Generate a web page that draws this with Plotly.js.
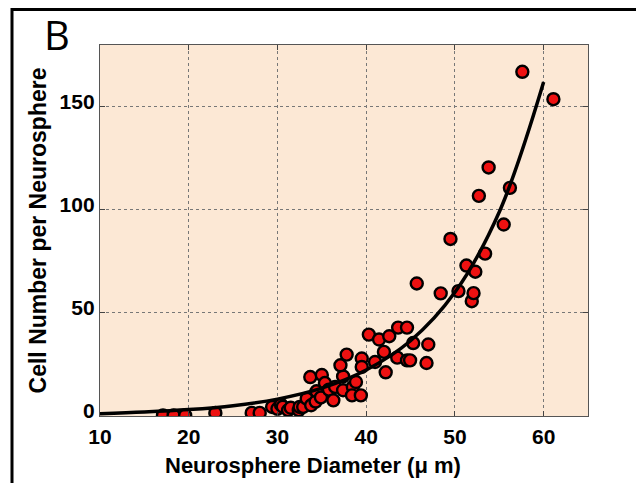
<!DOCTYPE html>
<html>
<head>
<meta charset="utf-8">
<script src="https://cdn.plot.ly/plotly-3.0.1.min.js"></script>
<style>html,body{margin:0;padding:0;background:#fff;}#chart{width:636px;height:483px;}</style>
</head>
<body>
<div id="chart"></div>
<script>
// Measured neurospheres: diameter (µm) and cell count
const diameter = [17.1, 18.3, 19.6, 23.0, 27.1, 28.0, 29.4, 30.0, 30.4, 30.6, 31.2, 31.5, 32.4, 32.5, 32.9,
  33.3, 33.8, 34.3, 34.4, 33.7, 35.0, 35.35, 34.9, 35.8, 36.3, 36.5, 37.4, 37.4, 37.1, 37.8,
  38.5, 38.85, 38.4, 39.4, 39.5, 39.5, 40.3, 41.0, 41.45, 42.0, 42.2, 42.6, 43.5, 43.6, 44.6,
  44.6, 44.95, 45.3, 45.7, 46.8, 47.0, 48.4, 49.5, 50.4, 51.3, 51.9, 52.1, 52.3, 52.7, 53.4,
  53.8, 55.5, 56.2, 57.6, 61.1];
const cellCount = [0.3, 0.3, 0.3, 1.5, 1.5, 1.5, 4.4, 3.5, 5.5, 4.5, 2.8, 4.0, 2.8, 4.4, 4.4,
  8.4, 5.2, 7.0, 12.0, 18.9, 19.9, 16.0, 9.0, 12.8, 7.6, 14.1, 12.5, 19.2, 24.6, 29.8,
  14.1, 16.5, 10.0, 10.0, 27.9, 23.8, 39.5, 26.2, 37.1, 31.1, 21.2, 38.7, 28.3, 42.9, 42.9,
  27.0, 27.0, 35.4, 64.3, 25.7, 34.7, 59.5, 85.9, 60.6, 73.0, 55.7, 59.6, 70.0, 106.8, 78.8,
  120.6, 92.9, 110.7, 167.0, 153.7];

// Fitted curve
const fitX = [10, 15, 20, 25, 30, 35, 40, 45, 50, 55, 60];
const fitY = [1.1, 1.9, 3.1, 5.0, 8.2, 13.5, 22.3, 36.5, 60, 99, 162];

const xTicks = [10, 20, 30, 40, 50, 60];
const yTicks = [0, 50, 100, 150];

const tickFont = {family: 'Liberation Sans, Arial, sans-serif', size: 21, color: '#000', weight: 'bold'};

const traces = [
  {
    type: 'scatter', mode: 'markers', x: diameter, y: cellCount,
    marker: {color: '#EE1111', size: 12, line: {color: '#000', width: 2.4}},
    hoverinfo: 'x+y', showlegend: false
  },
  {
    type: 'scatter', mode: 'lines', x: fitX, y: fitY,
    line: {color: '#000', width: 3.5, shape: 'spline', smoothing: 1},
    hoverinfo: 'skip', showlegend: false
  }
];

const layout = {
  width: 636, height: 483,
  margin: {l: 100, r: 48, t: 45, b: 67},
  paper_bgcolor: '#fff',
  plot_bgcolor: '#FCE8D5',
  showlegend: false,
  xaxis: {
    range: [10, 65], tickvals: xTicks, ticktext: xTicks.map(String),
    ticks: 'inside', ticklen: 5, tickcolor: '#444', tickwidth: 1,
    showline: true, linecolor: '#555', linewidth: 1.2, mirror: 'ticks',
    showgrid: true, gridcolor: '#777', gridwidth: 1, griddash: 'dot',
    zeroline: false, tickfont: tickFont, ticklabelstandoff: 2
  },
  yaxis: {
    range: [0, 180], tickvals: yTicks, ticktext: yTicks.map(String),
    ticks: 'inside', ticklen: 5, tickcolor: '#444', tickwidth: 1,
    showline: true, linecolor: '#555', linewidth: 1.2, mirror: 'ticks',
    showgrid: true, gridcolor: '#777', gridwidth: 1, griddash: 'dot',
    zeroline: false, tickfont: tickFont, ticklabelshift: -5,
    title: {text: 'Cell Number per Neurosphere', standoff: 6,
      font: {family: 'Liberation Sans, Arial, sans-serif', size: 23, color: '#000', weight: 'bold'}}
  },
  annotations: [
    {text: 'Neurosphere Diameter (\u03bc m)', xref: 'paper', yref: 'paper',
      x: (313 - 100) / 488, y: (416 - 466) / 371, xanchor: 'center', yanchor: 'middle',
      showarrow: false,
      font: {family: 'Liberation Sans, Arial, sans-serif', size: 22, color: '#000', weight: 'bold'}},
    {text: 'B', xref: 'paper', yref: 'paper',
      x: (57 - 100) / 488, y: (416 - 34) / 371, xanchor: 'center', yanchor: 'middle',
      showarrow: false,
      font: {family: 'Open Sans, DejaVu Sans, sans-serif', size: 40, color: '#000'}}
  ],
  shapes: [
    {type: 'rect', xref: 'paper', yref: 'paper', layer: 'above',
      x0: (12 - 100) / 488, x1: (660 - 100) / 488,
      y0: (416 - 500) / 371, y1: (416 - 9.5) / 371,
      line: {color: '#000', width: 3}, fillcolor: 'rgba(0,0,0,0)'}
  ]
};

Plotly.newPlot('chart', traces, layout, {displayModeBar: false, staticPlot: true});
</script>
</body>
</html>
